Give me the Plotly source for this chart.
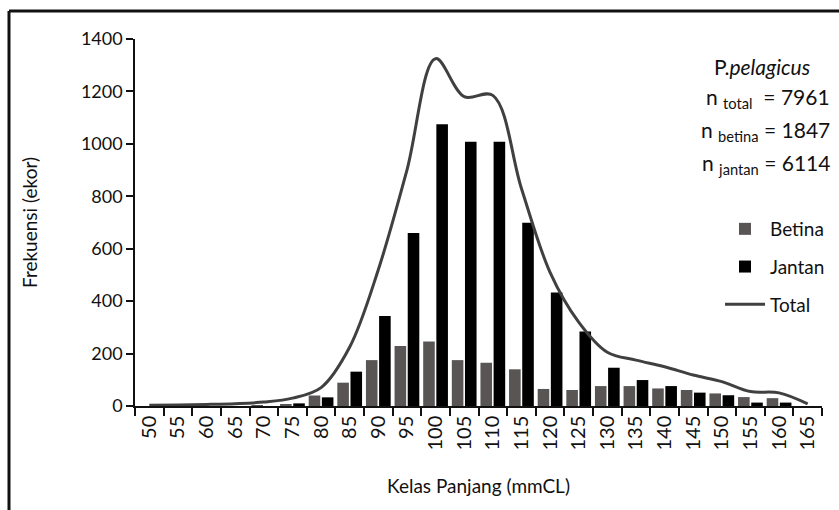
import plotly.graph_objects as go

categories = ["50", "55", "60", "65", "70", "75", "80", "85", "90", "95", "100", "105",
              "110", "115", "120", "125", "130", "135", "140", "145", "150", "155", "160", "165"]
betina = [0, 0, 0, 0, 2, 5, 40, 89, 175, 229, 246, 175, 165, 140, 65, 61, 76, 76, 67, 61, 48, 34, 30, 0]
jantan = [0, 0, 0, 0, 0, 10, 33, 131, 343, 660, 1075, 1008, 1008, 699, 433, 284, 146, 99, 76, 51, 41, 13, 13, 0]
total = [3, 4, 6, 9, 15, 30, 70, 225, 520, 900, 1325, 1180, 1185, 830, 510, 320, 205, 175, 150, 118, 93, 55, 50, 8]

y_ticks = [0, 200, 400, 600, 800, 1000, 1200, 1400]

FONT = "Lato"

fig = go.Figure()
fig.add_trace(go.Bar(x=categories, y=betina, name="Betina", marker=dict(color="#595555", line_width=0),
                     legendgroup="a"))
fig.add_trace(go.Bar(x=categories, y=jantan, name="Jantan", marker=dict(color="#000000", line_width=0),
                     legendgroup="b"))
fig.add_trace(go.Scatter(x=categories, y=total, name="Total", mode="lines",
                         line=dict(color="#404040", width=3, shape="spline", smoothing=1.0),
                         legendgroup="c"))

L, R, T, B = 135, 17, 39, 104
W, H = 839, 510
pw = W - L - R
ph = H - T - B


def px(x):
    return (x - L) / pw


def py(y):
    return (H - B - y) / ph


fig.update_layout(
    width=W, height=H,
    margin=dict(l=L, r=R, t=T, b=B, autoexpand=False),
    paper_bgcolor="white", plot_bgcolor="white",
    font=dict(family=FONT, size=18, color="#111111"),
    barmode="group", bargap=0.08, bargroupgap=0.12,
    showlegend=True,
    legend=dict(x=px(720), y=py(210), xanchor="left", yanchor="top",
                bgcolor="rgba(0,0,0,0)", font=dict(size=19, family=FONT),
                tracegroupgap=10, itemwidth=40),
    xaxis=dict(type="category", tickson="boundaries", ticks="outside", ticklen=8,
               tickwidth=1.5, tickcolor="#111", showline=True, linecolor="#111", linewidth=1.5,
               tickangle=-90, showgrid=False, range=[-0.5, 23.5],
               tickfont=dict(size=20, family=FONT),
               title=dict(text="Kelas Panjang (mmCL)", font=dict(size=19, family=FONT), standoff=30)),
    yaxis=dict(range=[0, 1400], tickvals=y_ticks, ticks="outside", ticklen=7, tickwidth=1.5,
               tickcolor="#111", showline=True, linecolor="#111", linewidth=1.5,
               showgrid=False, zeroline=False, tickfont=dict(size=18, family=FONT),
               title=dict(text="Frekuensi (ekor)", font=dict(size=19, family=FONT), standoff=38)),
)

# frame around the chart (left and top edges visible)
fx, fy = px(9), py(11)
fig.add_shape(type="line", xref="paper", yref="paper", x0=fx, x1=fx, y0=fy, y1=-0.5,
              line=dict(color="#111111", width=3))
fig.add_shape(type="line", xref="paper", yref="paper", x0=fx, x1=1.2, y0=fy, y1=fy,
              line=dict(color="#111111", width=3))

ann_font = dict(size=21, family=FONT, color="#111111")
fig.add_annotation(xref="paper", yref="paper", x=px(762), y=py(66), text="P.<i>pelagicus</i>",
                   showarrow=False, xanchor="center", yanchor="middle", font=ann_font)
for txt, ypos in [("n <sub>total</sub>  = 7961", 98), ("n <sub>betina</sub> = 1847", 131),
                  ("n <sub>jantan</sub> = 6114", 164)]:
    fig.add_annotation(xref="paper", yref="paper", x=px(832), y=py(ypos), text=txt,
                       showarrow=False, xanchor="right", yanchor="middle", font=ann_font)

fig.write_html("out.html")
